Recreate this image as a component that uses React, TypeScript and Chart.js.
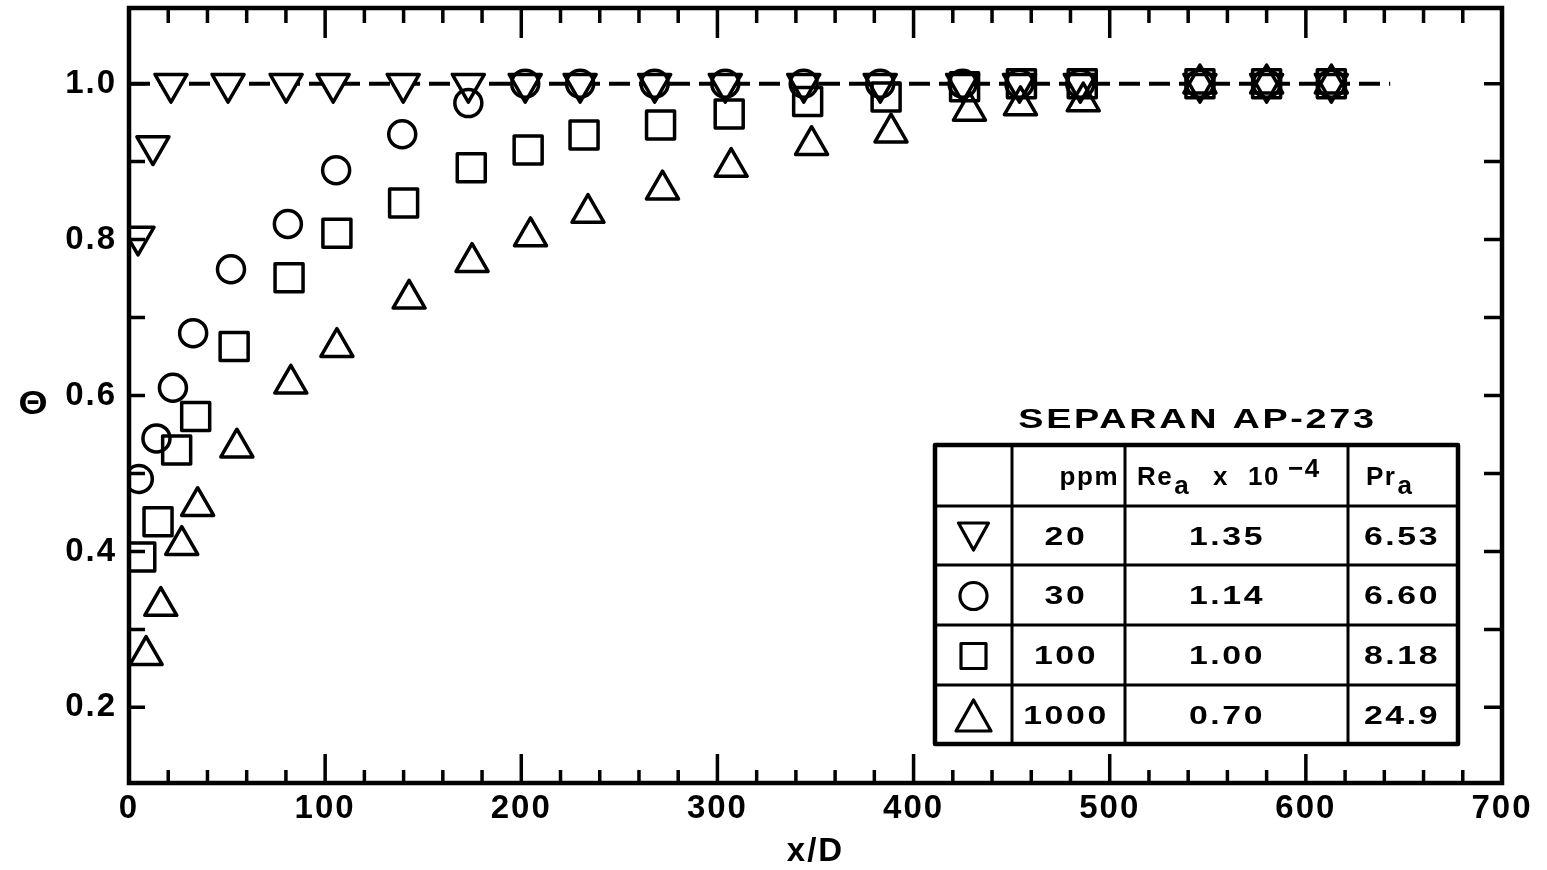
import React, { useEffect, useRef } from 'react';
import { Chart, registerables } from 'chart.js';

Chart.register(...registerables);

// ---------------- data ----------------
const xTickLabels = ['0', '100', '200', '300', '400', '500', '600', '700'];
const yTickLabels = ['0.2', '0.4', '0.6', '0.8', '1.0'];
const X_MINOR_STEP = 20;
const Y_MINOR_FIRST = 0.2;
const Y_MINOR_LAST = 1.0;
const Y_MINOR_STEP = 0.1;

// 20 ppm (inverted triangles)
const xD_20ppm = [4.6, 12.2, 21.4, 50.5, 80.1, 104.1, 139.8, 173, 202, 230, 268, 304, 344, 383, 425, 454, 485, 546, 580, 613];
const theta_20ppm = [0.804, 0.92, 1.0, 1.0, 1.0, 1.0, 1.0, 1.0, 1.0, 1.0, 1.0, 1.0, 1.0, 1.0, 1.0, 1.0, 1.0, 1.0, 1.0, 1.0];

// 30 ppm (circles)
const xD_30ppm = [5, 14, 22.4, 32.7, 52, 81, 105.6, 139.3, 173, 202, 230, 268, 304, 344, 383, 425, 454, 485, 546, 580, 613];
const theta_30ppm = [0.493, 0.545, 0.61, 0.68, 0.762, 0.82, 0.889, 0.935, 0.975, 1.0, 1.0, 1.0, 1.0, 1.0, 1.0, 1.0, 1.0, 1.0, 1.0, 1.0, 1.0];

// 100 ppm (squares)
const xD_100ppm = [6, 14.8, 24.3, 34, 53.6, 81.6, 106, 140, 174.5, 203.5, 232, 271, 306, 346, 386, 426, 455, 486, 546, 580, 613];
const theta_100ppm = [0.393, 0.438, 0.53, 0.573, 0.663, 0.751, 0.808, 0.847, 0.892, 0.915, 0.934, 0.947, 0.961, 0.977, 0.983, 0.996, 1.0, 1.0, 1.0, 1.0, 1.0];

// 1000 ppm (triangles)
const xD_1000ppm = [8.7, 16.2, 26.9, 35, 55, 82.5, 106, 142.8, 174.9, 204.7, 234, 272, 307, 348, 388.5, 428.5, 454.5, 486.5, 546, 580, 613];
const theta_1000ppm = [0.267, 0.33, 0.408, 0.458, 0.533, 0.615, 0.662, 0.724, 0.771, 0.804, 0.834, 0.864, 0.893, 0.921, 0.937, 0.965, 0.972, 0.977, 1.0, 1.0, 1.0];

// dashed reference line Θ = 1
const dashX = [0, 643];
const dashY = [1.0, 1.0];

// legend table
const tableTitle = 'SEPARAN AP-273';
const tableSymbols = ['down', 'circle', 'square', 'up'];
const tablePpm = ['20', '30', '100', '1000'];
const tableRe = ['1.35', '1.14', '1.00', '0.70'];
const tablePr = ['6.53', '6.60', '8.18', '24.9'];

// ---------------- styles ----------------
const FONT = '"Liberation Sans", Arial, Helvetica, sans-serif';
const W = 1547;
const H = 870;

const toPts = (xs: number[], ys: number[]) => xs.map((x, i) => ({ x, y: ys[i] }));

function drawSymbol(ctx: CanvasRenderingContext2D, kind: string, cx: number, cy: number) {
  ctx.beginPath();
  if (kind === 'circle') {
    ctx.arc(cx, cy, 13.5, 0, Math.PI * 2);
  } else if (kind === 'square') {
    ctx.rect(cx - 12.5, cy - 12.5, 25, 25);
  } else if (kind === 'up') {
    const w = 35, h = 31;
    ctx.moveTo(cx, cy - h / 2);
    ctx.lineTo(cx + w / 2, cy + h / 2);
    ctx.lineTo(cx - w / 2, cy + h / 2);
    ctx.closePath();
  } else {
    const w = 30, h = 27;
    ctx.moveTo(cx - w / 2, cy - h / 2);
    ctx.lineTo(cx + w / 2, cy - h / 2);
    ctx.lineTo(cx, cy + h / 2);
    ctx.closePath();
  }
  ctx.stroke();
}

// text drawn with a horizontal stretch (the original lettering is extended)
function wideText(ctx: CanvasRenderingContext2D, text: string, cx: number, base: number, sx: number) {
  ctx.save();
  ctx.translate(cx, base);
  ctx.scale(sx, 1);
  ctx.textAlign = 'center';
  ctx.fillText(text, 0, 0);
  ctx.restore();
}

const decorPlugin = {
  id: 'decor',
  beforeDraw(chart: any) {
    chart.ctx.letterSpacing = '2px';
  },
  beforeDatasetsDraw(chart: any) {
    chart.ctx.letterSpacing = '0px';
    chart.ctx.lineJoin = 'round';
  },
  afterDatasetsDraw(chart: any) {
    const { ctx, chartArea: a, scales } = chart;
    const xs = scales.x;
    const ys = scales.y;
    const xMax = parseFloat(xTickLabels[xTickLabels.length - 1]);
    ctx.save();
    ctx.strokeStyle = '#000';
    ctx.lineCap = 'butt';
    ctx.lineWidth = 3.5;
    ctx.beginPath();
    for (let v = X_MINOR_STEP; v < xMax; v += X_MINOR_STEP) {
      const px = xs.getPixelForValue(v);
      const major = xTickLabels.includes(String(v));
      const lb = major ? 29 : 13;
      const lt = major ? 30 : 15;
      ctx.moveTo(px, a.bottom);
      ctx.lineTo(px, a.bottom - lb);
      ctx.moveTo(px, a.top);
      ctx.lineTo(px, a.top + lt);
    }
    const n = Math.round((Y_MINOR_LAST - Y_MINOR_FIRST) / Y_MINOR_STEP);
    for (let k = 0; k <= n; k++) {
      const v = Y_MINOR_FIRST + k * Y_MINOR_STEP;
      const py = ys.getPixelForValue(v);
      ctx.moveTo(a.left, py);
      ctx.lineTo(a.left + 16, py);
      ctx.moveTo(a.right, py);
      ctx.lineTo(a.right - 18, py);
    }
    ctx.stroke();
    ctx.lineWidth = 4.5;
    ctx.lineJoin = 'miter';
    ctx.strokeRect(a.left, a.top, a.right - a.left, a.bottom - a.top);
    ctx.restore();
  },
  afterDraw(chart: any) {
    const { ctx, chartArea: a, scales } = chart;
    const ys = scales.y;
    ctx.save();
    ctx.fillStyle = '#000';
    ctx.strokeStyle = '#000';
    ctx.textBaseline = 'alphabetic';

    // Θ axis label
    ctx.font = `bold 34px ${FONT}`;
    ctx.letterSpacing = '0px';
    wideText(ctx, 'Θ', a.left - 96, ys.getPixelForValue(0.6) + 18, 1.1);

    // table geometry
    const colW = [77, 113, 223, 110];
    const rowH = [61, 59, 60, 60, 59];
    const right = a.right - 44;
    const bottom = a.bottom - 39;
    const totalW = colW.reduce((s, v) => s + v, 0);
    const totalH = rowH.reduce((s, v) => s + v, 0);
    const left = right - totalW;
    const top = bottom - totalH;
    const colX = [left];
    colW.forEach((w) => colX.push(colX[colX.length - 1] + w));
    const rowY = [top];
    rowH.forEach((h) => rowY.push(rowY[rowY.length - 1] + h));

    // title
    ctx.font = `bold 28px ${FONT}`;
    ctx.letterSpacing = '2px';
    wideText(ctx, tableTitle, (left + right) / 2 + 1, top - 17, 1.35);

    // cells
    ctx.fillStyle = '#fff';
    ctx.fillRect(left, top, totalW, totalH);
    ctx.fillStyle = '#000';
    ctx.lineWidth = 3;
    ctx.beginPath();
    for (let i = 1; i < colX.length - 1; i++) {
      ctx.moveTo(colX[i], top);
      ctx.lineTo(colX[i], bottom);
    }
    for (let j = 1; j < rowY.length - 1; j++) {
      ctx.moveTo(left, rowY[j]);
      ctx.lineTo(right, rowY[j]);
    }
    ctx.stroke();
    ctx.lineWidth = 4.5;
    ctx.strokeRect(left, top, totalW, totalH);

    // header
    const hb = rowY[0] + 40;
    ctx.font = `bold 26px ${FONT}`;
    ctx.letterSpacing = '1.5px';
    ctx.textAlign = 'right';
    ctx.fillText('ppm', colX[2] - 6, hb);
    ctx.textAlign = 'left';
    let x = colX[2] + 12;
    ctx.fillText('Re', x, hb);
    x += ctx.measureText('Re').width + 1;
    ctx.fillText('a', x, hb + 9);
    ctx.fillText('x', colX[2] + 88, hb);
    ctx.fillText('10', colX[2] + 123, hb);
    ctx.fillText('\u22124', colX[2] + 163, hb - 8);
    x = colX[3] + 18;
    ctx.fillText('Pr', x, hb);
    x += ctx.measureText('Pr').width + 1;
    ctx.fillText('a', x, hb + 9);

    // rows
    ctx.letterSpacing = '2px';
    for (let i = 0; i < tablePpm.length; i++) {
      const cy = (rowY[i + 1] + rowY[i + 2]) / 2;
      const base = cy + 9;
      ctx.lineWidth = 3.2;
      ctx.lineJoin = 'round';
      drawSymbol(ctx, tableSymbols[i], (colX[0] + colX[1]) / 2, cy + 1);
      wideText(ctx, tablePpm[i], colX[1] + 54, base, 1.3);
      wideText(ctx, tableRe[i], colX[2] + 102, base, 1.3);
      wideText(ctx, tablePr[i], colX[3] + 54, base, 1.3);
    }
    ctx.restore();
  },
};

export default function App() {
  const canvasRef = useRef<HTMLCanvasElement | null>(null);

  useEffect(() => {
    const canvas = canvasRef.current;
    if (!canvas) return;
    const tickFont = { family: FONT, size: 33, weight: 'bold' as const };
    const markerBase = {
      showLine: false,
      pointBorderColor: '#000',
      pointBorderWidth: 3.5,
      pointBackgroundColor: 'rgba(255,255,255,0)',
    };
    const chart = new Chart(canvas, {
      type: 'scatter',
      data: {
        datasets: [
          {
            label: 'Θ = 1',
            data: toPts(dashX, dashY),
            showLine: true,
            borderColor: '#000',
            borderWidth: 4,
            borderDash: [21, 9],
            pointRadius: 0,
            fill: false,
            order: 10,
          } as any,
          {
            ...markerBase,
            label: '20 ppm',
            data: toPts(xD_20ppm, theta_20ppm),
            pointStyle: 'triangle',
            pointRotation: 180,
            pointRadius: 18.5,
            pointBackgroundColor: '#fff',
            order: 5,
          },
          {
            ...markerBase,
            label: '30 ppm',
            data: toPts(xD_30ppm, theta_30ppm),
            pointStyle: 'circle',
            pointRadius: 13.5,
            order: 4,
          },
          {
            ...markerBase,
            label: '100 ppm',
            data: toPts(xD_100ppm, theta_100ppm),
            pointStyle: 'rect',
            pointRadius: 19.8,
            order: 3,
          },
          {
            ...markerBase,
            label: '1000 ppm',
            data: toPts(xD_1000ppm, theta_1000ppm),
            pointStyle: 'triangle',
            pointRadius: 18.5,
            order: 2,
          },
        ],
      },
      options: {
        animation: false,
        responsive: false,
        events: [],
        layout: { autoPadding: false, padding: { left: 0, right: 45, top: 8, bottom: 0 } },
        plugins: {
          legend: { display: false },
          tooltip: { enabled: false },
        },
        scales: {
          x: {
            type: 'linear',
            position: 'bottom',
            min: 0,
            max: 700,
            grid: { display: false, drawTicks: false },
            border: { display: false },
            afterBuildTicks: (s: any) => {
              s.ticks = xTickLabels.map((l) => ({ value: parseFloat(l) }));
            },
            afterFit: (s: any) => {
              s.height = 87;
              s.paddingLeft = 0;
              s.paddingRight = 0;
            },
            ticks: {
              autoSkip: false,
              maxRotation: 0,
              padding: 6,
              color: '#000',
              font: tickFont,
              callback: (_v: any, i: number) => xTickLabels[i],
            },
            title: {
              display: true,
              text: 'x/D',
              color: '#000',
              padding: 0,
              font: { family: FONT, size: 33, weight: 'bold', lineHeight: 1.1 },
            },
          },
          y: {
            type: 'linear',
            min: 0.103,
            max: 1.097,
            grid: { display: false, drawTicks: false },
            border: { display: false },
            afterBuildTicks: (s: any) => {
              s.ticks = yTickLabels.map((l) => ({ value: parseFloat(l) }));
            },
            afterFit: (s: any) => {
              s.width = 129;
              s.paddingTop = 0;
              s.paddingBottom = 0;
            },
            ticks: {
              autoSkip: false,
              padding: 12,
              color: '#000',
              font: tickFont,
              callback: (_v: any, i: number) => yTickLabels[i],
            },
          },
        },
      } as any,
      plugins: [decorPlugin],
    });
    return () => chart.destroy();
  }, []);

  return (
    <canvas
      ref={canvasRef}
      width={W}
      height={H}
      style={{ position: 'absolute', left: 0, top: 0, display: 'block', background: '#fff' }}
    />
  );
}
